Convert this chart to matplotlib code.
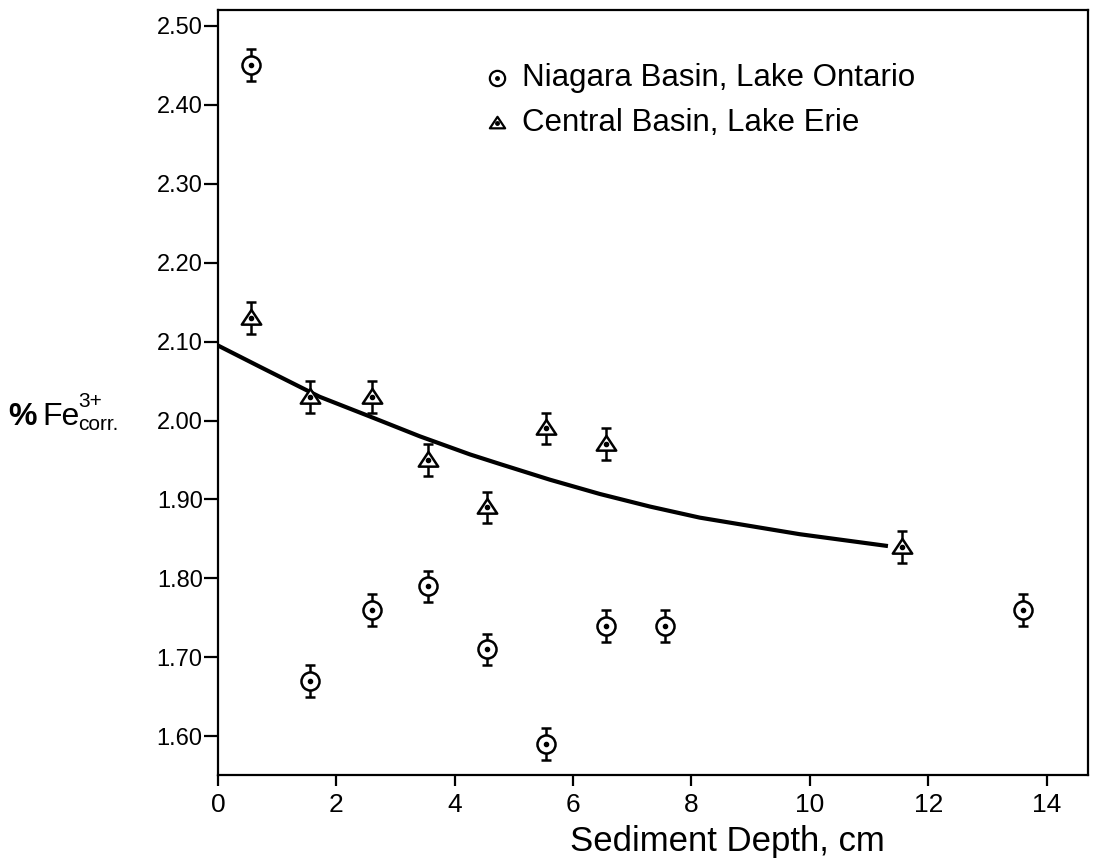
import matplotlib
matplotlib.use("Agg")
import matplotlib.pyplot as plt
from matplotlib.path import Path

plt.rcParams['font.family'] = ['Liberation Sans', 'DejaVu Sans']

# Niagara Basin, Lake Ontario (circles)
niagara_depth = [0.55, 1.55, 2.6, 3.55, 4.55, 5.55, 6.55, 7.55, 13.6]
niagara_fe = [2.45, 1.67, 1.76, 1.79, 1.71, 1.59, 1.74, 1.74, 1.76]
niagara_err = [0.02] * len(niagara_depth)

# Central Basin, Lake Erie (triangles)
erie_depth = [0.55, 1.55, 2.6, 3.55, 4.55, 5.55, 6.55, 11.55]
erie_fe = [2.13, 2.03, 2.03, 1.95, 1.89, 1.99, 1.97, 1.84]
erie_err = [0.02] * len(erie_depth)

# fitted curve, points
curve_x = [0, 0.71, 1.72, 2.57, 3.41, 4.26, 4.76, 5.61, 6.45, 7.30, 8.14, 9.83, 11.32]
curve_y = [2.095, 2.068, 2.030, 2.005, 1.980, 1.957, 1.945, 1.925, 1.907, 1.891, 1.877, 1.856, 1.841]

x_ticks = [0, 2, 4, 6, 8, 10, 12, 14]
y_ticks = [1.60, 1.70, 1.80, 1.90, 2.00, 2.10, 2.20, 2.30, 2.40, 2.50]

# triangle with the centre point low, like the drawn symbol
tri = Path([(0, 8.3), (-9.5, -6), (9.5, -6), (0, 8.3)],
           [Path.MOVETO, Path.LINETO, Path.LINETO, Path.CLOSEPOLY])

fig = plt.figure(figsize=(10.94, 8.64), dpi=100)
ax = fig.add_axes([218 / 1094, 89 / 864, 870 / 1094, 765 / 864])

ax.plot(curve_x, curve_y, color='black', lw=3.0, solid_capstyle='butt', solid_joinstyle='round', zorder=2)

ax.errorbar(niagara_depth, niagara_fe, yerr=niagara_err, fmt='none', ecolor='black',
            elinewidth=1.8, capsize=3.3, capthick=1.8, zorder=3)
ax.plot(niagara_depth, niagara_fe, 'o', ms=13, mfc='white', mec='black', mew=1.8, zorder=4)
ax.plot(niagara_depth, niagara_fe, 'o', ms=3, color='black', zorder=5)

ax.errorbar(erie_depth, erie_fe, yerr=erie_err, fmt='none', ecolor='black',
            elinewidth=1.8, capsize=3.3, capthick=1.8, zorder=3)
ax.plot(erie_depth, erie_fe, marker=tri, ls='none', ms=14, mfc='white', mec='black', mew=1.8, zorder=4)
ax.plot(erie_depth, erie_fe, 'o', ms=3, color='black', zorder=5)

ax.set_xlim(0, 14.7)
ax.set_ylim(1.551, 2.52)
ax.set_xticks(x_ticks)
ax.set_xticklabels([str(t) for t in x_ticks], fontsize=19, family=['Liberation Sans Narrow', 'Liberation Sans'])
ax.set_yticks(y_ticks)
ax.set_yticklabels(['%.2f' % t for t in y_ticks], fontsize=17)
ax.tick_params(axis='y', direction='out', length=10, width=1.6, pad=1)
ax.tick_params(axis='x', direction='out', length=8, width=1.6, pad=5)
for s in ax.spines.values():
    s.set_linewidth(1.6)

ax.set_xlabel('Sediment Depth, cm', fontsize=25)
ax.xaxis.set_label_coords(0.585, -0.066)

# legend drawn by hand
leg_y1, leg_y2 = 0.911, 0.852
ax.plot([0.3207], [leg_y1], 'o', ms=11, mfc='white', mec='black', mew=1.6,
        transform=ax.transAxes, clip_on=False)
ax.plot([0.3207], [leg_y1], 'o', ms=2.5, color='black', transform=ax.transAxes, clip_on=False)
ax.plot([0.3207], [leg_y2], marker=tri, ms=11, mfc='white', mec='black', mew=1.6,
        transform=ax.transAxes, clip_on=False)
ax.plot([0.3207], [leg_y2], 'o', ms=2.5, color='black', transform=ax.transAxes, clip_on=False)
ax.text(0.3494, leg_y1, 'Niagara Basin, Lake Ontario', fontsize=22.5, va='center', transform=ax.transAxes)
ax.text(0.3494, leg_y2, 'Central Basin, Lake Erie', fontsize=22.5, va='center', transform=ax.transAxes)

# y label: % Fe with 3+ over corr.
fig.text(8 / 1094, 1 - 425 / 864, '%', fontsize=23, fontweight='bold', va='baseline')
fig.text(42 / 1094, 1 - 425 / 864, 'Fe', fontsize=23, va='baseline')
fig.text(78 / 1094, 1 - 407 / 864, '3+', fontsize=15, va='baseline')
fig.text(78 / 1094, 1 - 430 / 864, 'corr.', fontsize=15, va='baseline')

fig.savefig('out.png', dpi=100)
